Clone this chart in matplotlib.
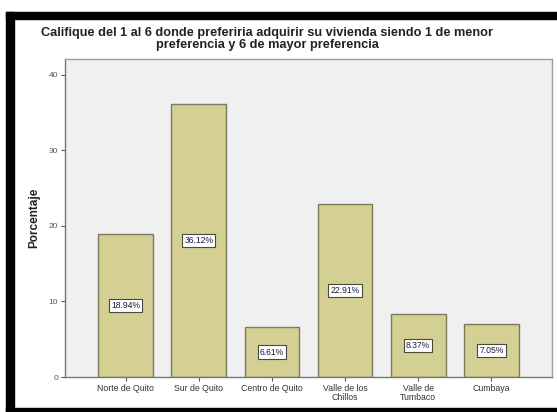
import matplotlib
matplotlib.use("Agg")
import matplotlib.pyplot as plt
from matplotlib.patches import Rectangle

plt.rcParams['font.family'] = ['Liberation Sans', 'DejaVu Sans']

categories = ["Norte de Quito", "Sur de Quito", "Centro de Quito",
              "Valle de los\nChillos", "Valle de\nTumbaco", "Cumbaya"]
percentages = [18.94, 36.12, 6.61, 22.91, 8.37, 7.05]
yticks = [0, 10, 20, 30, 40]
title = ("Califique del 1 al 6 donde preferiria adquirir su vivienda siendo 1 de menor\n"
         "preferencia y 6 de mayor preferencia")

W, H = 557, 412
fig = plt.figure(figsize=(W / 100, H / 100), dpi=100)
fig.patch.set_facecolor("white")

# black frame around the chart window
frame_col = "black"
fig.add_artist(Rectangle((6 / W, (H - 19) / H), 1 - 6 / W, 7 / H,
                         transform=fig.transFigure, color=frame_col, zorder=0))
fig.add_artist(Rectangle((6 / W, 0), 8 / W, (H - 12) / H,
                         transform=fig.transFigure, color=frame_col, zorder=0))
fig.add_artist(Rectangle((6 / W, 0), 1 - 6 / W, 4 / H,
                         transform=fig.transFigure, color=frame_col, zorder=0))

left, right, top, bottom = 65, 552, 59, 377
ax = fig.add_axes([left / W, 1 - bottom / H, (right - left) / W, (bottom - top) / H])
ax.set_facecolor("#f0f0f0")

x = list(range(len(categories)))
ax.bar(x, percentages, width=0.75, color="#d4cf93", edgecolor="#7d7b5e",
       linewidth=1.0, zorder=2)

for xi, v in zip(x, percentages):
    ax.text(xi, v / 2, f"{v:.2f}%", ha="center", va="center", fontsize=6.2,
            color="#1a1a40", zorder=3,
            bbox=dict(boxstyle="square,pad=0.25", facecolor="white",
                      edgecolor="#4a4a3a", linewidth=0.8))

ax.set_xlim(-0.83, len(categories) - 1 + 0.83)
ax.set_ylim(0, 42.1)
ax.set_yticks(yticks)
ax.set_yticklabels([str(t) for t in yticks], fontsize=6, color="#555555")
ax.set_xticks(x)
ax.set_xticklabels(categories, fontsize=6.3, color="#333333", linespacing=0.95)
ax.tick_params(axis="both", length=3, width=0.8, color="#555555", pad=2)

for s in ax.spines.values():
    s.set_color("#a0a0a0")
    s.set_linewidth(1.0)
ax.spines["left"].set_color("#777777")
ax.spines["bottom"].set_color("#777777")

ax.set_ylabel("Porcentaje", fontsize=8.5, fontweight="bold", color="#222222", labelpad=6)

fig.text(267 / W, 1 - 39 / H, title, ha="center", va="center",
         fontsize=9.2, fontweight="bold", color="#222222", linespacing=0.95)

fig.savefig("out.png", dpi=100)
